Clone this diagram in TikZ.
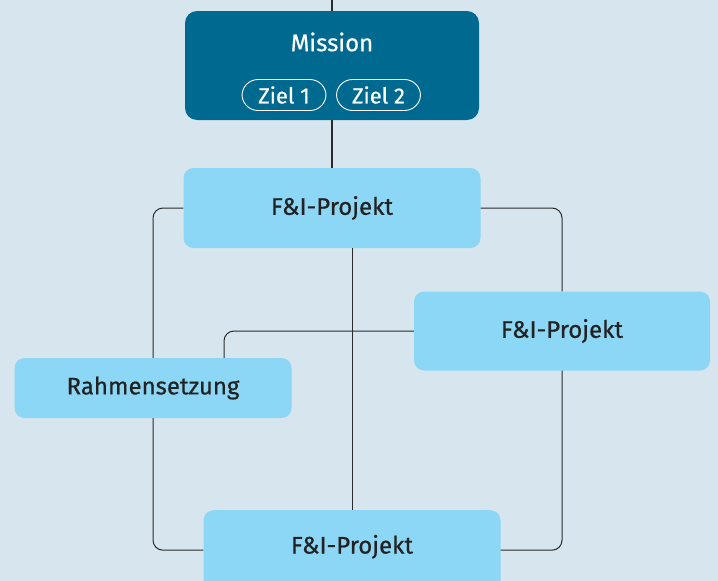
\documentclass[tikz,border=0pt]{standalone}
\usepackage{fontspec}
\setmainfont{Fira Sans}[FakeBold=0.6]
\usetikzlibrary{positioning}

\definecolor{bgblue}{HTML}{D7E6EE}
\definecolor{missionblue}{HTML}{00698F}
\definecolor{projblue}{HTML}{8DD7F6}
\definecolor{textdark}{HTML}{222222}
\definecolor{linegray}{HTML}{2A2A2A}

\begin{document}
\begin{tikzpicture}[x=1pt,y=-1pt,
  link/.style={draw=linegray,line width=1pt,rounded corners=10pt},
  mission node/.style={rectangle,rounded corners=12pt,fill=missionblue,
    minimum width=294pt,minimum height=109pt,inner sep=0pt},
  goal node/.style={rectangle,rounded corners=16pt,draw=white,line width=0.9pt,
    text=white,minimum width=84pt,minimum height=31pt,inner sep=0pt,font=\fontsize{22}{24}\selectfont},
  main node/.style={rectangle,rounded corners=10pt,fill=projblue,text=textdark,
    minimum width=297pt,minimum height=80pt,inner sep=0pt,font=\fontsize{24}{26}\selectfont}]

  \fill[bgblue] (0,0) rectangle (718,581);
  \clip (0,0) rectangle (718,581);

  \node[mission node] (mission) at (332,65.5) {};
  \node[text=white,font=\fontsize{24}{26}\selectfont] (mtitle) at (332,42) {Mission};
  \node[goal node] (z1) at (284,95) {Ziel 1};
  \node[goal node] (z2) at (378.5,95) {Ziel 2};

  \node[main node] (p1) at (332,208) {F\&I-Projekt};
  \node[main node,minimum width=296pt,minimum height=79pt] (p2) at (562,331) {F\&I-Projekt};
  \node[main node,minimum width=277pt,minimum height=60pt] (rahmen) at (153,388) {Rahmensetzung};
  % box runs off the bottom edge, text sits higher
  \node[main node,anchor=north,minimum height=90pt,text depth=22pt] (p3) at (352,510) {F\&I-Projekt};

  \coordinate (top) at (332,0);

  \draw[link,line width=1.4pt] (top) -- (mission.north);
  \draw[link,line width=1.2pt] (mission.south) -- (p1.north);
  \draw[link] (p1.west) -| (rahmen.north);
  \draw[link] (rahmen.south) |- ([yshift=5pt]p3.west);
  \draw[link] (p1.east) -| (p2.north);
  \draw[link] (p2.south) |- ([yshift=5pt]p3.east);
  \draw[link] (p2.west) -| ([xshift=71pt]rahmen.north);
  \draw[link,line width=0.8pt] (p1.south -| p3.north) -- (p3.north);
\end{tikzpicture}
\end{document}
